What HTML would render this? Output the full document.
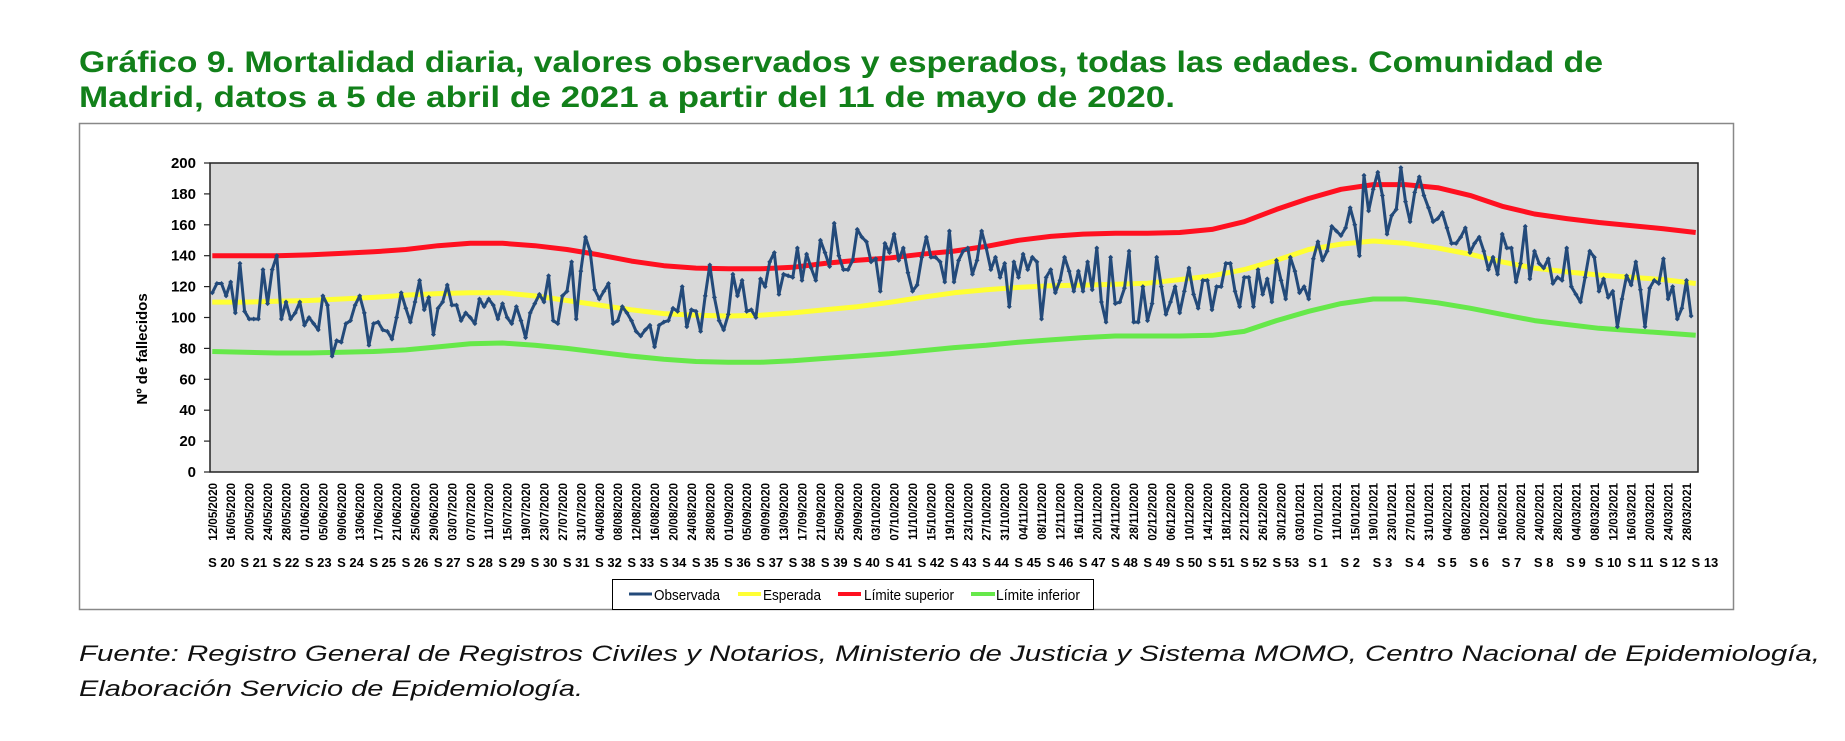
<!DOCTYPE html>
<html><head><meta charset="utf-8"><style>
html,body{margin:0;padding:0;background:#fff;}
svg{display:block;}
</style></head><body>
<svg id="chart" width="1845" height="741" viewBox="0 0 1845 741" xmlns="http://www.w3.org/2000/svg">
  <text x="79" y="72" textLength="1524" lengthAdjust="spacingAndGlyphs" font-family="Liberation Sans, sans-serif" font-weight="bold" font-size="30" fill="#12801a">Gráfico 9. Mortalidad diaria, valores observados y esperados, todas las edades. Comunidad de</text>
  <text x="79" y="107" textLength="1096" lengthAdjust="spacingAndGlyphs" font-family="Liberation Sans, sans-serif" font-weight="bold" font-size="30" fill="#12801a">Madrid, datos a 5 de abril de 2021 a partir del 11 de mayo de 2020.</text>
  <rect x="79.5" y="123.5" width="1654" height="486" fill="#fff" stroke="#888" stroke-width="1.5"/>
  <rect x="210" y="163" width="1488" height="309" fill="#d9d9d9" stroke="#222" stroke-width="1.5"/>
  <g id="yaxis"></g>
  <text transform="translate(147,349) rotate(-90)" text-anchor="middle" font-family="Liberation Sans, sans-serif" font-weight="bold" font-size="15" fill="#000">Nº de fallecidos</text>
  <g id="series"></g>
  <g id="xaxis"></g>
  <g>
    <rect x="612.5" y="579.5" width="481" height="30" fill="#fff" stroke="#000" stroke-width="1"/>
    <g>
      <line x1="629" y1="594" x2="652" y2="594" stroke="#234a7a" stroke-width="3"/>
      <text x="654" y="600" font-family="Liberation Sans, sans-serif" font-size="15" textLength="66" lengthAdjust="spacingAndGlyphs">Observada</text>
    </g>
    <g>
      <line x1="738" y1="594" x2="761" y2="594" stroke="#ffff33" stroke-width="4"/>
      <text x="763" y="600" font-family="Liberation Sans, sans-serif" font-size="15" textLength="58" lengthAdjust="spacingAndGlyphs">Esperada</text>
    </g>
    <g>
      <line x1="838" y1="594" x2="861" y2="594" stroke="#ff1020" stroke-width="4"/>
      <text x="864" y="600" font-family="Liberation Sans, sans-serif" font-size="15" textLength="90" lengthAdjust="spacingAndGlyphs">Límite superior</text>
    </g>
    <g>
      <line x1="971" y1="594" x2="995" y2="594" stroke="#66e84a" stroke-width="4"/>
      <text x="996" y="600" font-family="Liberation Sans, sans-serif" font-size="15" textLength="84" lengthAdjust="spacingAndGlyphs">Límite inferior</text>
    </g>
  </g>
  <text x="79" y="661" textLength="1741" lengthAdjust="spacingAndGlyphs" font-family="Liberation Sans, sans-serif" font-style="italic" font-size="22" fill="#111">Fuente: Registro General de Registros Civiles y Notarios, Ministerio de Justicia y Sistema MOMO, Centro Nacional de Epidemiología,</text>
  <text x="79" y="696" textLength="504" lengthAdjust="spacingAndGlyphs" font-family="Liberation Sans, sans-serif" font-style="italic" font-size="22" fill="#111">Elaboración Servicio de Epidemiología.</text>
</svg>
<script>
// ---- data ----
const startDate = [2020, 5, 12];          // first category: 12/05/2020
const nCategories = 323;                  // daily categories
const yTicks = [0,20,40,60,80,100,120,140,160,180,200];
const weekNumbers = [20,21,22,23,24,25,26,27,28,29,30,31,32,33,34,35,36,37,38,39,40,41,42,43,44,45,46,47,48,49,50,51,52,53,1,2,3,4,5,6,7,8,9,10,11,12,13];
const observada = [116,122,122,114,123,103,135,104,99,99,99,131,109,131,140,99,110,99,103,110,95,100,96,92,114,108,75,85,84,96,98,108,114,103,82,96,97,92,91,86,100,116,106,97,110,124,105,113,89,106,110,121,108,108,98,103,100,96,112,107,112,108,99,
109,100,96,107,98,87,103,109,115,110,127,98,96,114,117,136,99,130,152,143,118,112,117,122,96,98,107,103,98,91,88,92,95,81,95,97,98,106,104,120,94,105,104,91,114,134,113,98,92,102,128,114,124,104,105,100,125,120,136,142,115,128,127,126,145,124,141,132,124,150,142,133,161,140,131,131,137,157,152,149,136,138,117,148,142,154,137,
145,129,117,121,139,152,139,139,136,123,156,123,137,143,145,128,137,156,145,131,139,126,135,107,136,126,141,131,139,136,99,126,131,116,124,139,130,117,130,117,136,118,145,110,97,139,109,110,119,143,97,97,120,98,109,139,120,102,110,120,103,117,132,115,106,124,124,105,120,120,135,135,117,107,126,126,107,131,115,125,110,137,124,112,139,130,116,120,112,138,149,137,143,159,156,153,158,171,160,140,192,169,183,194,179,154,166,170,197,175,162,181,191,179,171,162,164,168,158,148,148,
152,158,142,148,152,143,131,139,128,154,145,145,123,135,159,125,143,135,132,138,122,126,124,145,120,115,110,126,143,139,117,125,113,117,94,112,127,121,136,118,94,119,124,122,138,112,120,99,106,124,101];
// weekly values (every 7th day)
const esperada = [110,110,110.5,111,112,113,114.5,115.5,116,116,114,111,108,105,102.5,101.5,101,101.5,103,105,107,109.8,113,116,118,119.5,120.5,121,121.5,122.2,124.5,127,131,137,144,147.5,149.5,148,145,141,136,132,129.5,127.5,126,124.5,122];
const limiteSuperior = [140,140,140,140.5,141.5,142.5,144,146.5,148,148,146.5,144,140.5,136.5,133.5,132,131.5,131.5,132.5,135,137,138.5,141,143,146,150,152.5,154,154.5,154.5,155,157,162,170,177,183,186,186,184,179,172,167,164,161.5,159.5,157.5,155];
const limiteInferior = [78,77.5,77,77,77.5,78,79,81,83,83.5,82,80,77.5,75,73,71.5,71,71,72,73.5,75,76.5,78.5,80.5,82,84,85.5,87,88,88,88,88.5,91,98,104,109,112,112,109.5,106,102,98,95.5,93,91.5,90,88.5];

// ---- axes ----
const NS = 'http://www.w3.org/2000/svg';
const PX0 = 210, PW = 1488, PY0 = 163, PH = 309, YMAX = 200;
function xScale(i){ return PX0 + (i + 0.5) * PW / nCategories; }
function yScale(v){ return PY0 + PH - v * PH / YMAX; }
function mk(tag, attrs, parent){ const e = document.createElementNS(NS, tag); for (const k in attrs) e.setAttribute(k, attrs[k]); parent.appendChild(e); return e; }
function pad(n){ return (n < 10 ? '0' : '') + n; }

const yaxis = document.getElementById('yaxis');
yTicks.forEach(t => {
  const ln = mk('line', {x1: 204, x2: 210, y1: yScale(t), y2: yScale(t), stroke: '#222', 'stroke-width': 1.2}, yaxis);
  
  
  const tx = mk('text', {x: 196, y: yScale(t) + 5, 'text-anchor': 'end', 'font-family': 'Liberation Sans, sans-serif', 'font-weight': 'bold', 'font-size': 15}, yaxis);
  tx.textContent = String(t);
  
  
});

const xaxis = document.getElementById('xaxis');
for (let i = 0; i < nCategories; i += 4) {
  const d = new Date(startDate[0], startDate[1] - 1, startDate[2] + i);
  const label = pad(d.getDate()) + '/' + pad(d.getMonth() + 1) + '/' + d.getFullYear();
  const tx = mk('text', {transform: 'translate(' + (xScale(i) + 4.5) + ',483) rotate(-90)', 'text-anchor': 'end', 'font-family': 'Liberation Sans, sans-serif', 'font-weight': 'bold', 'font-size': 11.5}, xaxis);
  tx.textContent = label;
  
  
}
weekNumbers.forEach((w, j) => {
  const tx = mk('text', {x: xScale(2 + 7 * j), y: 567, 'text-anchor': 'middle', 'font-family': 'Liberation Sans, sans-serif', 'font-weight': 'bold', 'font-size': 13}, xaxis);
  tx.textContent = 'S ' + w;
  
  
});

// ---- series ----
const series = document.getElementById('series');
function weeklyPath(arr){ return arr.map((v, j) => (j ? 'L' : 'M') + xScale(7 * j).toFixed(1) + ',' + yScale(v).toFixed(1)).join(''); }
const pInf = mk('path', {d: weeklyPath(limiteInferior), fill: 'none', stroke: '#66e84a', 'stroke-width': 5, 'stroke-linejoin': 'round'}, series);


const pEsp = mk('path', {d: weeklyPath(esperada), fill: 'none', stroke: '#ffff33', 'stroke-width': 5, 'stroke-linejoin': 'round'}, series);


const pSup = mk('path', {d: weeklyPath(limiteSuperior), fill: 'none', stroke: '#ff1020', 'stroke-width': 5, 'stroke-linejoin': 'round'}, series);



const pObs = mk('path', {d: observada.map((v, i) => (i ? 'L' : 'M') + xScale(i).toFixed(1) + ',' + yScale(v).toFixed(1)).join(''), fill: 'none', stroke: '#234a7a', 'stroke-width': 3, 'stroke-linejoin': 'round'}, series);


const markers = mk('g', {fill: '#234a7a'}, series);


observada.forEach((v, i) => {
  const cx = xScale(i), cy = yScale(v);
  const m = mk('path', {d: 'M' + cx + ',' + (cy - 2.5) + 'L' + (cx + 2.5) + ',' + cy + 'L' + cx + ',' + (cy + 2.5) + 'L' + (cx - 2.5) + ',' + cy + 'Z'}, markers);
  
  
});
</script>
</body></html>
